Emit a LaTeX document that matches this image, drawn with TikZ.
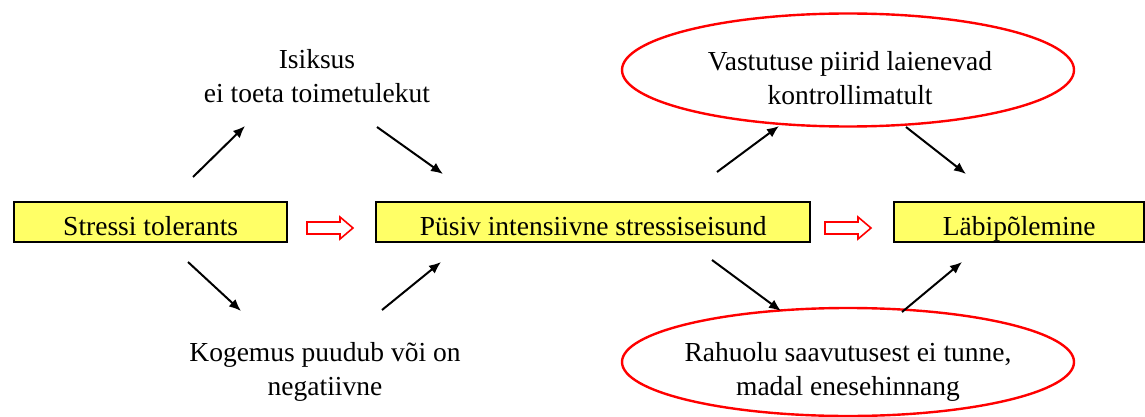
\documentclass[tikz,border=0pt]{standalone}
\usepackage{fontspec}
\setmainfont{Liberation Serif}
\usetikzlibrary{arrows.meta,shapes.geometric}
\definecolor{boxyellow}{HTML}{FFFF66}
\begin{document}
\begin{tikzpicture}[x=1pt,y=-1pt,
  every node/.style={font=\fontsize{27.5}{34}\selectfont},
  ybox/.style={draw=black,line width=2.4pt,fill=boxyellow,rectangle,anchor=north west,
    minimum height=40pt,inner sep=0pt,text height=26pt,text depth=0pt},
  redell/.style={draw=red,line width=2.4pt,ellipse,inner sep=0pt},
  plain/.style={align=center,inner sep=0pt},
  arr/.style={line width=2pt,-{Latex[length=12pt,width=10pt]}},
  hollow/.style={draw=red,line width=1.6pt,fill=white}
]
\useasboundingbox (0,0) rectangle (1145,417);
\fill[white] (0,0) rectangle (1145,417);

% boxes
\node[ybox,minimum width=273pt] (b1) at (13,201) {Stressi tolerants};
\node[ybox,minimum width=434pt] (b2) at (375,201) {Püsiv intensiivne stressiseisund};
\node[ybox,minimum width=250pt] (b3) at (893,201) {Läbipõlemine};

% ellipses
\node[redell,minimum width=452pt,minimum height=113pt] (e1) at (848,70) {};
\node[redell,minimum width=452pt,minimum height=108pt] (e2) at (848,362) {};
\node[plain] (e1t) at (850,78) {Vastutuse piirid laienevad\\kontrollimatult};
\node[plain] (e2t) at (848,372) {Rahuolu saavutusest ei tunne,\\madal enesehinnang};

% plain texts
\node[plain] (t1) at (317,76) {Isiksus\\ei toeta toimetulekut};
\node[plain] (t2) at (325,372) {Kogemus puudub või on\\negatiivne};

% hollow arrows
\coordinate (h1) at (307,228);
\coordinate (h2) at (825,228);
\foreach \h in {h1,h2}{
  \draw[hollow] (\h) ++(0,-6) -- ++(33,0) -- ++(0,-5) -- ++(13,11) -- ++(-13,11) -- ++(0,-5) -- ++(-33,0) -- cycle;
}

% black arrow endpoints
\coordinate (a1s) at (193,177); \coordinate (a1e) at (245,126);
\coordinate (a2s) at (377,127); \coordinate (a2e) at (443,174);
\coordinate (a3s) at (188,262); \coordinate (a3e) at (241,311);
\coordinate (a4s) at (382,310); \coordinate (a4e) at (441,262);
\coordinate (a5s) at (717,172); \coordinate (a5e) at (779,126);
\coordinate (a6s) at (906,127); \coordinate (a6e) at (966,174);
\coordinate (a7s) at (712,260); \coordinate (a7e) at (781,311);
\coordinate (a8s) at (902,312); \coordinate (a8e) at (962,262);
\foreach \i in {1,...,8}{
  \draw[arr] (a\i s) -- (a\i e);
}
\end{tikzpicture}
\end{document}
